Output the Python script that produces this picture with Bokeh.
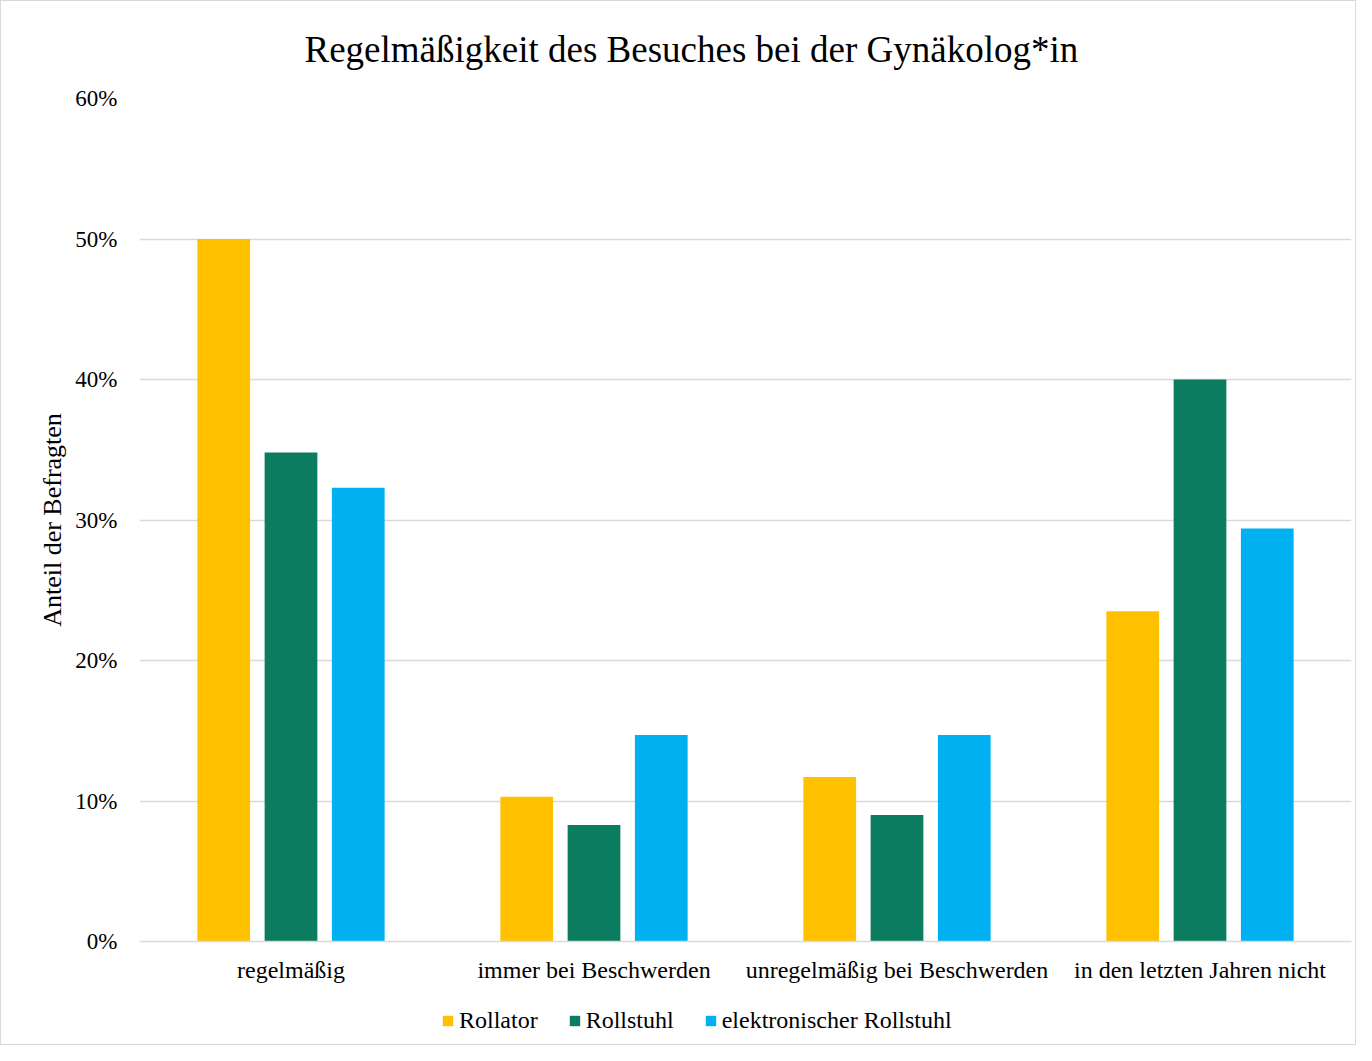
from bokeh.plotting import figure
from bokeh.layouts import column
from bokeh.models import ColumnDataSource, Range1d, NumeralTickFormatter, FixedTicker, Legend, LegendItem
from bokeh.transform import dodge
from bokeh.embed import file_html
from bokeh.resources import INLINE

categories = ["regelmäßig", "immer bei Beschwerden", "unregelmäßig bei Beschwerden", "in den letzten Jahren nicht"]
series_names = ["Rollator", "Rollstuhl", "elektronischer Rollstuhl"]
rollator = [0.500, 0.103, 0.117, 0.235]
rollstuhl = [0.348, 0.083, 0.090, 0.400]
e_rollstuhl = [0.323, 0.147, 0.147, 0.294]
y_ticks = [0, 0.1, 0.2, 0.3, 0.4, 0.5, 0.6]

colors = ["#FFC000", "#0B7C5F", "#00B0F0"]
FONT = "Liberation Serif"
W = 1354

source = ColumnDataSource(data=dict(cat=categories, r=rollator, s=rollstuhl, e=e_rollstuhl))

p = figure(x_range=categories, y_range=Range1d(0, 0.6), width=W, height=995,
           output_backend="svg", toolbar_location=None,
           min_border_left=138, min_border_top=96, min_border_bottom=55, min_border_right=4)

p.title.text = "Regelmäßigkeit des Besuches bei der Gynäkolog*in"
p.title.text_font = FONT
p.title.text_font_size = "37px"
p.title.text_font_style = "normal"
p.title.text_color = "#000000"
p.title.align = "left"
p.title.vertical_align = "top"
p.title.offset = 165
p.title.standoff = 54

offsets = [-0.222, 0.0, 0.222]
fields = ["r", "s", "e"]
renderers = []
for f, off, c in zip(fields, offsets, colors):
    rr = p.vbar(x=dodge("cat", off, range=p.x_range), top=f, width=0.174, source=source,
                fill_color=c, line_color=None)
    renderers.append(rr)

p.yaxis.ticker = FixedTicker(ticks=y_ticks)
p.yaxis.formatter = NumeralTickFormatter(format="0%")
p.yaxis.axis_line_color = None
p.yaxis.major_tick_line_color = None
p.yaxis.minor_tick_line_color = None
p.yaxis.major_label_text_font = FONT
p.yaxis.major_label_text_font_size = "23px"
p.yaxis.major_label_text_color = "#000000"
p.yaxis.major_label_standoff = 16
p.yaxis.axis_label = "Anteil der Befragten"
p.yaxis.axis_label_text_font = FONT
p.yaxis.axis_label_text_font_size = "26px"
p.yaxis.axis_label_text_font_style = "normal"
p.yaxis.axis_label_text_color = "#000000"
p.yaxis.axis_label_standoff = 5

p.xaxis.axis_line_color = "#d9d9d9"
p.xaxis.axis_line_width = 1.5
p.xaxis.major_tick_line_color = None
p.xaxis.minor_tick_line_color = None
p.xaxis.major_label_text_font = FONT
p.xaxis.major_label_text_font_size = "24px"
p.xaxis.major_label_text_color = "#000000"
p.xaxis.major_label_standoff = 9

p.xgrid.grid_line_color = None
p.ygrid.grid_line_color = "#d9d9d9"
p.ygrid.grid_line_width = 1.5
p.outline_line_color = None
p.x_range.range_padding = 0.0
p.x_range.factor_padding = 0.0

# Legend in a separate strip below the chart (frame aligned with the main plot)
lp = figure(width=W, height=48, output_backend="svg", toolbar_location=None,
            x_range=Range1d(0, 1), y_range=Range1d(0, 1),
            min_border_left=0, min_border_right=0, min_border_top=0, min_border_bottom=0)
lp.axis.visible = False
lp.grid.grid_line_color = None
lp.outline_line_color = None
offscreen = ColumnDataSource(data=dict(x=[5.0], top=[0.0]))
lrs = [lp.vbar(x="x", top="top", width=0.1, source=offscreen, fill_color=c, line_color=None) for c in colors]

legend = Legend(items=[LegendItem(label=n, renderers=[r]) for n, r in zip(series_names, lrs)],
                orientation="horizontal", location=(302, 10))
legend.label_text_font = FONT
legend.label_text_font_size = "24px"
legend.label_text_color = "#000000"
legend.glyph_width = 13
legend.glyph_height = 13
legend.label_standoff = 5
legend.spacing = 30
legend.border_line_color = None
legend.background_fill_alpha = 0
legend.padding = 4
legend.margin = 0
lp.add_layout(legend, "center")

layout = column(p, lp, spacing=0, styles={"border": "1px solid #d9d9d9"})

open("out.html", "w").write(file_html(layout, INLINE))
